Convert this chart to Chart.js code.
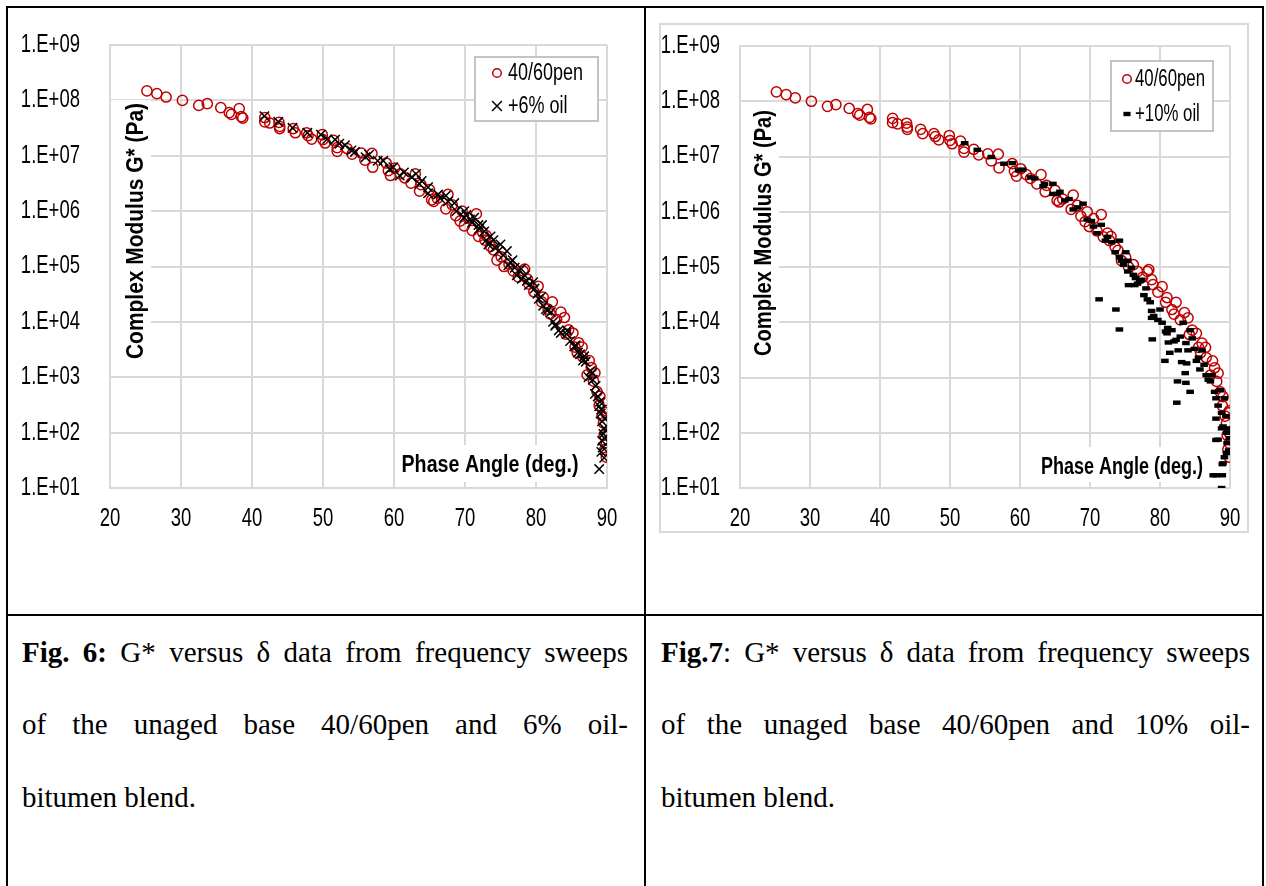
<!DOCTYPE html>
<html>
<head>
<meta charset="utf-8">
<script src="https://cdn.jsdelivr.net/npm/chart.js@4.4.1/dist/chart.umd.min.js"></script>
<style>
html,body{margin:0;padding:0;background:#fff;}
body{width:1266px;height:886px;position:relative;overflow:hidden;font-family:"Liberation Serif","Times New Roman",serif;color:#000;}
.ln{position:absolute;background:#000;z-index:5;}
canvas{position:absolute;}
#frame2{position:absolute;left:659px;top:23px;width:590px;height:510px;border:2px solid #d9d9d9;box-sizing:border-box;}
.cl{position:absolute;font-size:29px;line-height:30px;height:30px;white-space:nowrap;}
.j{text-align:justify;text-align-last:justify;white-space:normal;}
</style>
</head>
<body>
<div id="frame2"></div>
<canvas id="c1" width="640" height="560" style="left:0;top:0"></canvas>
<canvas id="c2" width="614" height="560" style="left:646px;top:0"></canvas>

<div class="ln" style="left:6px;top:6px;width:1258px;height:2px"></div>
<div class="ln" style="left:6px;top:6px;width:2px;height:880px"></div>
<div class="ln" style="left:644px;top:6px;width:2px;height:880px"></div>
<div class="ln" style="left:1262px;top:6px;width:2px;height:880px"></div>
<div class="ln" style="left:6px;top:614px;width:1258px;height:2px"></div>

<div class="cl j" style="left:22px;top:637px;width:606px"><b>Fig. 6:</b> G* versus δ data from frequency sweeps</div>
<div class="cl j" style="left:22px;top:709px;width:606px">of the unaged base 40/60pen and 6% oil-</div>
<div class="cl" style="left:22px;top:782px;width:606px">bitumen blend.</div>

<div class="cl j" style="left:661px;top:637px;width:589px"><b>Fig.7</b>: G* versus δ data from frequency sweeps</div>
<div class="cl j" style="left:661px;top:709px;width:589px">of the unaged base 40/60pen and 10% oil-</div>
<div class="cl" style="left:661px;top:782px;width:589px">bitumen blend.</div>

<script>
// ---------- data ----------
const xTickValues = [20, 30, 40, 50, 60, 70, 80, 90];
const yTickValues = [1e1, 1e2, 1e3, 1e4, 1e5, 1e6, 1e7, 1e8, 1e9];
const yTickLabels = ['1.E+01','1.E+02','1.E+03','1.E+04','1.E+05','1.E+06','1.E+07','1.E+08','1.E+09'];
const xTitle = 'Phase Angle (deg.)';
const yTitle = 'Complex Modulus G* (Pa)';
const seriesNames = ['40/60pen', '+6% oil', '+10% oil'];

// 40/60pen (base bitumen): phase angle (deg) and complex modulus G* (Pa)
const penAngle = [25.2,26.6,27.9,30.2,32.5,33.7,35.6,36.8,37.1,38.2,38.5,38.7,
  41.8,41.8,42.5,43.8,43.9,43.9,45.8,46.1,47.7,47.9,48.4,49.9,50.0,50.3,51.5,52.0,52.0,53.4,
  54.1,55.4,55.9,56.9,57.0,58.9,59.2,59.5,60.1,60.9,61.5,62.4,63.0,63.6,63.8,65.0,65.3,65.6,66.1,
  67.6,67.3,68.2,68.7,69.3,69.6,69.9,70.5,71.0,71.6,71.9,72.5,72.8,73.0,73.6,74.0,74.5,75.1,75.5,
  76.2,76.8,77.5,78.2,78.4,78.8,79.0,79.7,80.3,80.8,81.0,81.7,82.0,82.3,82.9,83.5,84.0,84.2,84.6,
  85.2,85.5,85.8,86.0,86.5,86.6,87.2,87.5,87.8,88.1,88.3,88.6,88.9,89.0,89.3,89.5,89.6,89.7,89.8,
  89.9,89.9,89.9,89.9];
const penModulus = [1.48e8,1.32e8,1.15e8,1.0e8,8.1e7,8.7e7,7.4e7,6.0e7,5.6e7,7.1e7,5.1e7,4.8e7,
  4.9e7,4.1e7,3.9e7,4.0e7,3.4e7,3.1e7,3.1e7,2.6e7,2.6e7,2.3e7,2.0e7,2.4e7,1.95e7,1.7e7,1.9e7,1.4e7,1.2e7,1.35e7,
  1.07e7,1.12e7,8.3e6,1.1e7,6.2e6,7.4e6,5.4e6,4.4e6,6.0e6,4.7e6,4.0e6,3.2e6,4.7e6,2.3e6,3.0e6,2.45e6,1.6e6,1.5e6,1.7e6,
  2.0e6,1.1e6,1.3e6,8.3e5,6.6e5,1.0e6,5.4e5,7.5e5,4.5e5,8.9e5,3.5e5,4.1e5,3.0e5,3.6e5,2.3e5,2.0e5,1.3e5,1.5e5,1.0e5,
  1.1e5,8.3e4,6.5e4,8.3e4,9.0e4,5.9e4,4.8e4,3.5e4,4.4e4,2.3e4,2.8e4,1.7e4,1.4e4,2.3e4,1.1e4,1.5e4,1.2e4,6.0e3,7.2e3,
  6.3e3,3.5e3,2.8e3,4.2e3,3.5e3,2.3e3,1.1e3,2.0e3,1.5e3,8.5e2,1.2e3,5.5e2,3.1e2,4.5e2,2.0e2,1.5e2,90,50,2.3e2,
  2.5e2,1.0e2,65,36];

// +6% oil blend
const oil6Angle = [41.75,43.7,45.7,47.8,49.7,50.6,51.7,52.3,53.1,54.0,54.5,56.0,56.5,57.7,58.5,59.4,59.9,
  60.8,61.4,62.5,63.1,63.6,63.9,64.8,64.8,66.2,66.5,67.3,67.6,68.5,68.8,69.9,69.9,70.2,70.7,71.0,71.3,
  71.9,72.0,72.4,72.7,73.0,73.3,73.6,74.0,74.2,74.7,75.0,75.4,75.9,76.1,76.4,76.7,77.0,77.3,77.9,78.0,
  78.4,78.7,79.0,79.6,80.4,79.8,80.2,80.7,81.6,81.0,81.4,82.8,82.1,82.4,82.7,84.3,83.2,83.5,84.8,85.4,
  84.4,85.9,86.6,87.4,85.6,86.2,87.0,88.3,87.7,86.8,88.0,88.4,87.9,88.7,88.9,89.0,89.3,89.1,89.3,89.5,
  88.9,89.2,89.4,89.6,89.6,89.6,89.2,89.7,89.8];
const oil6Modulus = [5.2e7,4.1e7,3.2e7,2.6e7,2.4e7,2.0e7,1.95e7,1.65e7,1.55e7,1.25e7,1.17e7,9.4e6,1.05e7,8.1e6,8.1e6,5.7e6,6.2e6,
  4.4e6,5.0e6,4.1e6,4.7e6,3.1e6,3.5e6,2.7e6,2.1e6,2.0e6,1.7e6,1.9e6,1.5e6,1.4e6,1.0e6,1.0e6,7.6e5,8.5e5,7.1e5,6.2e5,7.6e5,
  5.6e5,4.8e5,5.6e5,4.3e5,3.0e5,2.5e5,3.5e5,3.0e5,2.2e5,1.9e5,2.5e5,1.6e5,1.9e5,1.05e5,1.2e5,1.3e5,9.5e4,6.9e4,9.1e4,6.0e4,
  6.9e4,5.5e4,4.6e4,5.2e4,2.6e4,4.0e4,3.2e4,2.8e4,1.6e4,1.95e4,1.7e4,9.0e3,1.5e4,1.0e4,8.5e3,6.0e3,7.0e3,6.3e3,4.5e3,3.6e3,
  7.0e3,2.8e3,2.0e3,1.0e3,3.8e3,2.6e3,1.9e3,5.0e2,1.3e3,2.4e3,9.0e2,7.0e2,1.2e3,4.5e2,3.0e2,3.6e2,71,2.2e2,1.6e2,95,
  22,2.6e2,54,1.2e2,80,35,45,1.8e2,1.1e2];

// +10% oil blend
const oil10Angle = [52.1,53.9,55.9,57.7,58.9,59.8,60.4,61.5,62.1,63.3,63.5,64.7,64.7,65.3,65.7,66.4,67.0,
  67.6,68.2,69.0,69.6,70.2,70.5,71.0,71.3,71.6,72.2,72.5,73.1,73.6,73.7,74.2,74.2,74.2,74.5,74.8,75.1,
  75.4,75.4,75.5,75.9,76.2,76.4,76.5,76.8,77.1,77.4,77.7,78.0,78.2,78.6,78.8,78.8,78.9,79.1,79.7,80.0,
  80.3,80.7,80.8,81.0,81.1,81.2,81.4,81.7,82.0,82.3,82.4,82.5,82.6,82.9,83.1,83.3,83.6,83.7,83.7,83.8,
  84.0,84.3,84.3,84.6,84.9,85.2,85.5,85.7,86.0,86.3,86.6,86.9,87.2,87.4,87.6,87.8,88.0,88.0,88.0,88.0,
  88.3,88.3,88.6,88.8,88.8,88.8,88.9,88.9,89.0,89.0,89.2,89.2,89.4,89.5,89.5,89.6,89.8,89.9,89.9];
const oil10Modulus = [1.74e7,1.32e7,9.8e6,7.4e6,7.6e6,5.6e6,5.8e6,4.2e6,4.0e6,2.9e6,3.2e6,3.2e6,2.1e6,2.1e6,2.3e6,1.6e6,1.7e6,
  1.1e6,1.2e6,1.4e6,7.2e5,6.8e5,5.4e5,4.1e5,2.6e4,5.8e5,3.0e5,3.5e5,2.8e5,1.85e5,1.7e4,3.0e5,1.5e5,7.4e3,1.3e5,1.1e5,1.85e5,
  1.3e5,8.3e4,4.7e4,9.7e4,7.2e4,4.7e4,6.3e4,5.0e4,5.5e4,5.9e4,3.1e4,4.1e4,2.6e4,2.3e4,1.6e4,1.2e4,4.9e3,1.3e4,1.1e4,1.7e4,
  9.8e3,2.0e3,6.8e3,6.3e3,7.9e3,4.3e3,2.8e3,7.2e3,4.5e3,4.8e3,3.5e2,8.5e2,3.1e3,5.5e3,1.9e3,9.8e3,1.2e3,4.2e3,8.0e2,1.8e3,
  3.1e3,7.2e3,5.5e2,5.1e3,3.3e3,2.0e3,2.3e3,1.4e3,3.1e3,1.7e3,1.1e3,9.1e2,8.5e2,1.1e3,17,5.5e2,4.2e2,1.8e2,74,17,
  3.1e2,75,5.9e2,2.3e2,10,1.2e2,27,17,1.3e2,28,4.2e2,36,2.0e2,1.0e2,43,65,48,1.2e2,80];

// ---------- rendering ----------
const TICK_FONT = '"Liberation Sans", Arial, sans-serif';
const TITLE_FONT = '"Liberation Sans", Arial, sans-serif';
const TICK_SX = 0.74;   // narrow (condensed) look of the axis numbers
const GRID = '#d9d9d9';
const pts = (a, m) => a.map((x, i) => ({ x: x, y: m[i] }));

// draws the axis tick numbers horizontally condensed (Arial Narrow look)
const condense = {
  id: 'condense',
  beforeDraw(chart) {
    const ctx = chart.ctx;
    if (ctx._origFill) return;
    const orig = ctx.fillText;
    ctx._origFill = orig;
    ctx.fillText = function (t, x, y) {
      this.save();
      this.translate(x, y);
      this.scale(TICK_SX, 1);
      orig.call(this, t, 0, 0);
      this.restore();
    };
  },
  beforeDatasetsDraw(chart) {
    const ctx = chart.ctx;
    if (ctx._origFill) { ctx.fillText = ctx._origFill; delete ctx._origFill; }
  }
};

const annot = {
  id: 'annot',
  beforeDatasetsDraw(chart, args, o) {
    const ctx = chart.ctx;
    [o.yT, o.xT].forEach(t => {
      ctx.save();
      ctx.fillStyle = '#fff';
      ctx.fillRect(t.box[0], t.box[1], t.box[2] - t.box[0], t.box[3] - t.box[1]);
      ctx.font = 'bold 23px ' + TITLE_FONT;
      ctx.textAlign = 'center';
      ctx.textBaseline = 'middle';
      const w = ctx.measureText(t.text).width;
      ctx.translate(t.cx, t.cy);
      ctx.rotate(t.rot);
      ctx.scale(t.width / w, 1);
      ctx.fillStyle = '#000';
      ctx.fillText(t.text, 0, 1);
      ctx.restore();
    });
  },
  afterDatasetsDraw(chart, args, o) {
    const ctx = chart.ctx;
    const L = o.leg;
    ctx.save();
    ctx.fillStyle = '#fff';
    ctx.fillRect(L.box[0], L.box[1], L.box[2] - L.box[0], L.box[3] - L.box[1]);
    ctx.strokeStyle = '#c4c4c4';
    ctx.lineWidth = 2;
    ctx.strokeRect(L.box[0], L.box[1], L.box[2] - L.box[0], L.box[3] - L.box[1]);
    ctx.font = '23px ' + TITLE_FONT;
    const sx = L.textW / ctx.measureText(chart.data.datasets[0].label).width;
    chart.data.datasets.forEach((ds, i) => {
      const y = L.rows[i];
      ctx.save();
      ctx.strokeStyle = ds.pointBorderColor;
      ctx.fillStyle = 'rgba(0,0,0,0)';
      ctx.lineWidth = ds.pointBorderWidth;
      Chart.helpers.drawPoint(ctx, { pointStyle: ds.pointStyle, radius: ds.legendRadius, borderWidth: ds.pointBorderWidth, rotation: 0 }, L.mx, y);
      ctx.restore();
      ctx.save();
      ctx.fillStyle = '#000';
      ctx.textBaseline = 'middle';
      ctx.textAlign = 'left';
      ctx.translate(L.tx, y + 1);
      ctx.scale(sx, 1);
      ctx.fillText(ds.label, 0, 0);
      ctx.restore();
    });
    ctx.restore();
  }
};

function makeChart(id, oilSet, g) {
  const penSet = {
    label: seriesNames[0], data: pts(penAngle, penModulus), order: 2,
    pointStyle: 'circle', pointRadius: 5.1, pointBorderWidth: 1.5, legendRadius: 4.3,
    pointBorderColor: '#c00000', pointBackgroundColor: 'rgba(0,0,0,0)', showLine: false
  };
  return new Chart(document.getElementById(id), {
    type: 'scatter',
    data: { datasets: [penSet, oilSet] },
    options: {
      responsive: false, animation: false, devicePixelRatio: 1,
      layout: { padding: { left: 0, top: g.T, right: g.R, bottom: 0 } },
      events: [],
      plugins: { legend: { display: false }, tooltip: { enabled: false }, annot: g.annot },
      scales: {
        x: {
          type: 'linear', min: 20, max: 90,
          afterBuildTicks: s => { s.ticks = xTickValues.map(v => ({ value: v })); },
          afterFit: s => { s.height = g.B; },
          grid: { color: GRID, lineWidth: 2, drawTicks: false },
          border: { color: GRID, width: 2 },
          ticks: { color: '#000', padding: 16, maxRotation: 0, autoSkip: false, font: { family: TICK_FONT, size: 25 } }
        },
        y: {
          type: 'logarithmic', min: 10, max: 1e9,
          afterBuildTicks: s => { s.ticks = yTickValues.map(v => ({ value: v })); },
          afterFit: s => { s.width = g.L; },
          grid: { color: GRID, lineWidth: 2, drawTicks: false },
          border: { color: GRID, width: 2 },
          ticks: { color: '#000', padding: g.yPad, autoSkip: false, font: { family: TICK_FONT, size: 25 },
            callback: (v, i) => yTickLabels[i] }
        }
      }
    },
    plugins: [condense, annot]
  });
}

makeChart('c1', {
  label: seriesNames[1], data: pts(oil6Angle, oil6Modulus), order: 1,
  pointStyle: 'crossRot', pointRadius: 6.6, pointBorderWidth: 1.5, legendRadius: 7,
  pointBorderColor: '#000', pointBackgroundColor: '#000', showLine: false
}, {
  L: 110, T: 37, R: 33, B: 72, yPad: 30,
  annot: {
    yT: { text: yTitle, cx: 136, cy: 231, width: 256, rot: -Math.PI / 2, box: [111, 100, 151, 362] },
    xT: { text: xTitle, cx: 490, cy: 465, width: 177, rot: 0, box: [397, 445, 593, 482] },
    leg: { box: [475, 57, 598, 121], rows: [73, 106], mx: 497, tx: 508, textW: 75 }
  }
});

makeChart('c2', {
  label: seriesNames[2], data: pts(oil10Angle, oil10Modulus), order: 1,
  pointStyle: 'line', pointRadius: 3.8, pointBorderWidth: 4.4, legendRadius: 3.6,
  pointBorderColor: '#000', pointBackgroundColor: '#000', showLine: false
}, {
  L: 94, T: 46, R: 30, B: 72, yPad: 20,
  annot: {
    yT: { text: yTitle, cx: 118, cy: 233, width: 246, rot: -Math.PI / 2, box: [95, 104, 133, 362] },
    xT: { text: xTitle, cx: 476, cy: 467, width: 162, rot: 0, box: [389, 447, 562, 482] },
    leg: { box: [465, 61, 567, 131], rows: [79, 114], mx: 481, tx: 489, textW: 70 }
  }
});
</script>
</body>
</html>
